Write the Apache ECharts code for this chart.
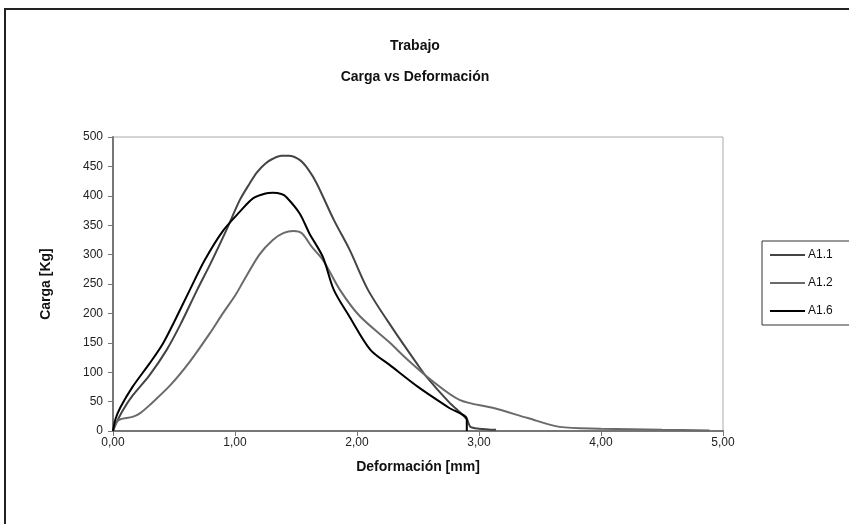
<!DOCTYPE html>
<html>
<head>
<meta charset="utf-8">
<script src="https://cdn.jsdelivr.net/npm/echarts@6/dist/echarts.min.js"></script>
<style>
  html, body { margin: 0; padding: 0; background: #fff; }
  #chart { width: 849px; height: 524px; }
</style>
</head>
<body>
<div id="chart"></div>
<script>
// values
const seriesNames = ['A1.1', 'A1.2', 'A1.6'];

const a11X = [0, 0.03, 0.08, 0.16, 0.30, 0.44, 0.55, 0.69, 0.80, 0.93, 1.04, 1.12, 1.18, 1.25, 1.31, 1.38, 1.44, 1.53, 1.60, 1.67, 1.81, 1.94, 2.09, 2.30, 2.49, 2.57, 2.75, 2.90, 2.93, 3.00, 3.14];
const a11Y = [0, 15, 35, 60, 95, 138, 180, 240, 285, 342, 393, 421, 440, 455, 463, 468, 468, 461, 445, 421, 359, 308, 240, 172, 115, 92, 50, 20, 7, 4, 2];

const a12X = [0, 0.03, 0.06, 0.16, 0.22, 0.30, 0.47, 0.63, 0.80, 0.90, 1.00, 1.07, 1.20, 1.31, 1.40, 1.48, 1.55, 1.63, 1.72, 1.86, 2.02, 2.27, 2.40, 2.60, 2.84, 3.12, 3.40, 3.66, 4.00, 4.50, 4.89];
const a12Y = [0, 15, 20, 24, 30, 44, 78, 118, 168, 200, 230, 255, 300, 325, 337, 340, 336, 313, 291, 240, 196, 150, 124, 88, 53, 39, 22, 7, 4, 2, 1];

const a16X = [0, 0.02, 0.06, 0.16, 0.30, 0.41, 0.50, 0.63, 0.75, 0.90, 1.04, 1.15, 1.25, 1.31, 1.38, 1.42, 1.53, 1.61, 1.72, 1.81, 1.94, 2.11, 2.27, 2.50, 2.75, 2.90, 2.90];
const a16Y = [0, 20, 40, 75, 115, 149, 185, 240, 290, 340, 373, 396, 404, 405, 403, 398, 370, 336, 296, 240, 194, 138, 112, 75, 40, 20, 0];

const seriesX = [a11X, a12X, a16X];
const seriesY = [a11Y, a12Y, a16Y];
const lineColors = ['#444444', '#6a6a6a', '#000000'];

const font = 'Liberation Sans, Arial, sans-serif';

const chart = echarts.init(document.getElementById('chart'), null, { renderer: 'canvas' });

const series = seriesNames.map((name, i) => ({
  name: name,
  type: 'line',
  data: seriesX[i].map((x, j) => [x, seriesY[i][j]]),
  symbol: 'none',
  smooth: 0.3,
  lineStyle: { color: lineColors[i], width: 2 },
  itemStyle: { color: lineColors[i] },
  animation: false
}));

chart.setOption({
  backgroundColor: '#fff',
  textStyle: { fontFamily: font },
  title: [
    {
      text: 'Trabajo',
      left: 410, top: 34, textAlign: 'center',
      textStyle: { fontSize: 14, fontWeight: 'bold', color: '#111', fontFamily: font }
    },
    {
      text: 'Carga vs Deformación',
      left: 410, top: 65, textAlign: 'center',
      textStyle: { fontSize: 14, fontWeight: 'bold', color: '#111', fontFamily: font }
    }
  ],
  graphic: [
    {
      type: 'rect',
      shape: { x: 5, y: 9, width: 900, height: 600 },
      style: { fill: 'none', stroke: '#222', lineWidth: 2 },
      silent: true
    }
  ],
  legend: {
    orient: 'vertical',
    left: 762, top: 241,
    data: seriesNames,
    icon: 'rect',
    itemWidth: 35, itemHeight: 2,
    itemGap: 14,
    padding: [7, 30, 7, 8],
    borderColor: '#333', borderWidth: 1,
    textStyle: { fontSize: 12, lineHeight: 14, height: 14, color: '#111', fontFamily: font, padding: [0, 0, 0, -2] }
  },
  grid: {
    left: 113, right: 126, top: 137, bottom: 93,
    show: true, borderColor: '#aaa', borderWidth: 1, backgroundColor: '#fff'
  },
  xAxis: {
    type: 'value', min: 0, max: 5, interval: 1,
    name: 'Deformación [mm]', nameLocation: 'middle', nameGap: 29,
    nameTextStyle: { fontSize: 14, fontWeight: 'bold', color: '#111', fontFamily: font },
    axisLine: { show: true, lineStyle: { color: '#777', width: 2 } },
    axisTick: { show: true, length: 5, lineStyle: { color: '#777', width: 1 } },
    axisLabel: { fontSize: 12, color: '#222', margin: 6, formatter: v => v.toFixed(2).replace('.', ',') },
    splitLine: { show: false }
  },
  yAxis: {
    type: 'value', min: 0, max: 500, interval: 50,
    name: 'Carga [Kg]', nameLocation: 'middle', nameGap: 60, nameRotate: 90,
    nameTextStyle: { fontSize: 14, fontWeight: 'bold', color: '#111', fontFamily: font },
    axisLine: { show: true, lineStyle: { color: '#777', width: 2 } },
    axisTick: { show: true, length: 5, lineStyle: { color: '#777', width: 1 } },
    axisLabel: { fontSize: 12, color: '#222', margin: 10 },
    splitLine: { show: false }
  },
  series: series
});
</script>
</body>
</html>
